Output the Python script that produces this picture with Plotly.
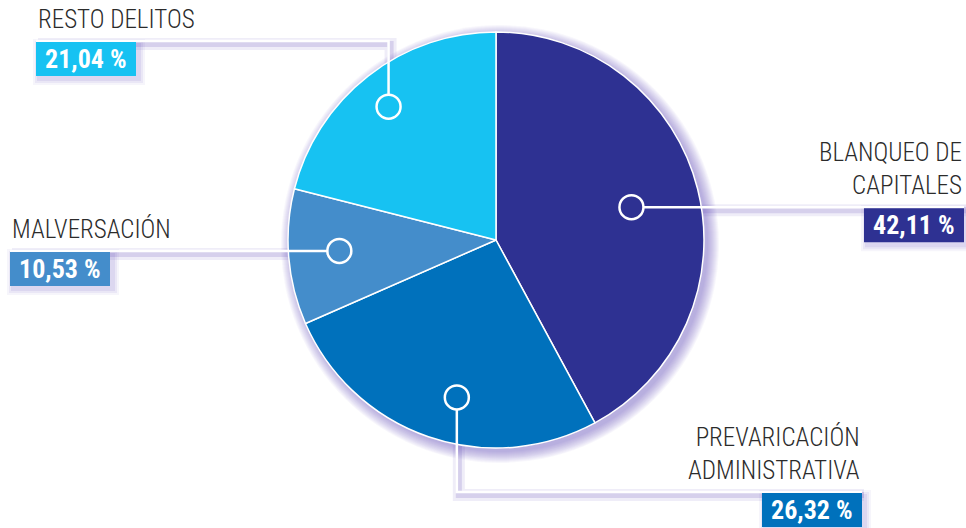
import math
import plotly.graph_objects as go

# ---------------- data ----------------
categories = ["BLANQUEO DE<br>CAPITALES", "PREVARICACIÓN<br>ADMINISTRATIVA", "MALVERSACIÓN", "RESTO DELITOS"]
values = [42.11, 26.32, 10.53, 21.04]
pct_labels = ["42,11 %", "26,32 %", "10,53 %", "21,04 %"]

# ---------------- style ----------------
colors = ["#2E3192", "#0071BC", "#448DCB", "#17C2F2"]
W, H = 966, 528
CX, CY, R = 496, 240, 208          # pie centre / radius in pixels
LABEL_FONT = "Roboto Condensed, Liberation Sans Narrow, Arial Narrow, Roboto, sans-serif"
BOX_FONT = "Roboto Condensed, Liberation Sans Narrow, Roboto, sans-serif"
SHADOW = "rgba(100,80,185,{a})"

# callout geometry per slice (marker radius fraction, angle tweak, route)
callouts = [
    dict(frac=0.67, dang=0.6, route="right", end_x=964),
    dict(frac=0.78, dang=-5.0, route="down_right", turn_y=492, end_x=862),
    dict(frac=0.755, dang=0.7, route="left", end_x=10),
    dict(frac=0.823, dang=-1.0, route="up_left", turn_y=41, end_x=36),
]
BOX_W, BOX_H = 100, 34
MARK_R = 12


def px(x):
    return x / W


def py(y):
    return 1 - y / H


fig = go.Figure()
fig.add_trace(go.Pie(
    labels=[c.replace("<br>", " ") for c in categories],
    values=values,
    sort=False,
    direction="clockwise",
    rotation=0,
    marker=dict(colors=colors, line=dict(color="white", width=1.5)),
    textinfo="none",
    hoverinfo="skip",
    showlegend=False,
    domain=dict(x=[px(CX - R), px(CX + R)], y=[py(CY + R), py(CY - R)]),
))

shapes = []
annotations = []

# soft glow behind the pie (offset to lower right)
for i in range(0, 12):
    r = R + i
    shapes.append(dict(type="circle", xref="paper", yref="paper", layer="below",
                       x0=px(CX + 4 - r), x1=px(CX + 4 + r), y0=py(CY + 4 + r), y1=py(CY + 4 - r),
                       fillcolor=SHADOW.format(a=0.045), line=dict(width=0)))

total = sum(values)
cum = 0.0
for i, v in enumerate(values):
    mid = (cum + v / 2) / total * 360
    cum += v
    c = callouts[i]
    ang = math.radians(mid + c["dang"])
    rr = c["frac"] * R
    mx = CX + rr * math.sin(ang)
    my = CY - rr * math.cos(ang)

    if c["route"] in ("right", "left"):
        pts = [(mx, my), (c["end_x"], my)]
        line_y = my
    else:
        pts = [(mx, my), (mx, c["turn_y"]), (c["end_x"], c["turn_y"])]
        line_y = c["turn_y"]
    side = "right" if "right" in c["route"] else "left"

    path = "M " + " L ".join(f"{px(x):.5f},{py(y):.5f}" for x, y in pts)
    spath = "M " + " L ".join(f"{px(x + 2):.5f},{py(y + 3):.5f}" for x, y in pts)
    # line shadow
    shapes.append(dict(type="path", path=spath, xref="paper", yref="paper", layer="below",
                       line=dict(color=SHADOW.format(a=0.10), width=12)))
    shapes.append(dict(type="path", path=spath, xref="paper", yref="paper", layer="below",
                       line=dict(color=SHADOW.format(a=0.18), width=6)))
    # white line
    shapes.append(dict(type="path", path=path, xref="paper", yref="paper", layer="above",
                       line=dict(color="white", width=2.5)))
    # marker circle
    shapes.append(dict(type="circle", xref="paper", yref="paper", layer="above",
                       x0=px(mx - MARK_R), x1=px(mx + MARK_R), y0=py(my + MARK_R), y1=py(my - MARK_R),
                       fillcolor=colors[i], line=dict(color="white", width=2.5)))

    # percentage box
    if side == "right":
        bx0, bx1 = c["end_x"] - BOX_W, c["end_x"]
    else:
        bx0, bx1 = c["end_x"], c["end_x"] + BOX_W
    by0, by1 = line_y + 1, line_y + 1 + BOX_H
    for k, a in ((6, 0.06), (4, 0.08), (2, 0.10)):
        shapes.append(dict(type="rect", xref="paper", yref="paper", layer="below",
                           x0=px(bx0 - k + 3), x1=px(bx1 + k + 3), y0=py(by1 + k + 3), y1=py(by0 - k + 3),
                           fillcolor=SHADOW.format(a=a), line=dict(width=0)))
    shapes.append(dict(type="rect", xref="paper", yref="paper", layer="above",
                       x0=px(bx0), x1=px(bx1), y0=py(by1), y1=py(by0),
                       fillcolor=colors[i], line=dict(width=0)))
    annotations.append(dict(x=px((bx0 + bx1) / 2), y=py((by0 + by1) / 2), xref="paper", yref="paper",
                            text=f"<b>{pct_labels[i]}</b>", showarrow=False,
                            xanchor="center", yanchor="middle",
                            font=dict(family=BOX_FONT, size=26, color="white")))
    # category label
    annotations.append(dict(x=px(c["end_x"]), y=py(line_y - 5), xref="paper", yref="paper",
                            text=categories[i], showarrow=False,
                            xanchor=side, yanchor="bottom", align=side,
                            font=dict(family=LABEL_FONT, size=25, color="#2B2B2B", weight=300)))

fig.update_layout(
    width=W, height=H,
    margin=dict(l=0, r=0, t=0, b=0),
    paper_bgcolor="white", plot_bgcolor="white",
    shapes=shapes, annotations=annotations,
    showlegend=False,
)
fig.write_html("out.html", config={"displayModeBar": False},
               post_script="document.body.style.margin='0';document.body.style.overflow='hidden';")
